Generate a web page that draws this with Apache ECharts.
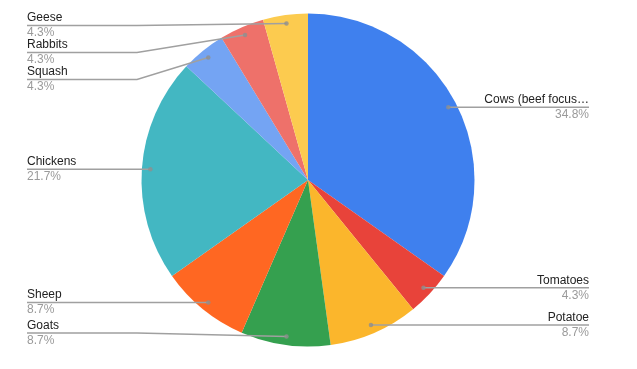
<!DOCTYPE html>
<html><head><meta charset="utf-8">
<script src="https://cdn.jsdelivr.net/npm/echarts@6/dist/echarts.min.js"></script>
<style>html,body{margin:0;padding:0;background:#fff}#c{width:637px;height:369px}</style>
</head><body><div id="c"></div>
<script>
// ---- data ----
const categories = ['Cows (beef focus…', 'Tomatoes', 'Potatoe', 'Goats', 'Sheep', 'Chickens', 'Squash', 'Rabbits', 'Geese'];
const values = [8, 1, 2, 2, 2, 5, 1, 1, 1];
const colors = ['#3F80EE', '#E8433A', '#FBB62C', '#35A04F', '#FF6722', '#43B7C2', '#74A4F3', '#EE716A', '#FCCB4F'];

// ---- style constants ----
const PIE_CX = 308, PIE_CY = 180, PIE_R = 166.5, DOT_INSET = 8.5, BEND = 110;
const FONT = "'Liberation Sans', Arial, sans-serif";

const chart = echarts.init(document.getElementById('c'), null, {renderer: 'canvas'});

const total = values.reduce((a, b) => a + b, 0);
let acc = 0;
const dotData = values.map(v => { const a = acc + v / 2; acc += v; return [PIE_R - DOT_INSET, a]; });

function layoutLabels(params) {
  const data = chart.getModel().getSeriesByIndex(params.seriesIndex).getData();
  const h = params.labelRect.height;
  const items = [];
  let top = 0, bottom = 0;
  data.each(function (idx) {
    const l = data.getItemLayout(idx);
    top = l.cy - l.r; bottom = l.cy + l.r;
    const mid = (l.startAngle + l.endAngle) / 2;
    const rd = l.r - DOT_INSET;
    items.push({idx: idx, x: l.cx + rd * Math.cos(mid), y: l.cy + rd * Math.sin(mid), left: Math.cos(mid) < 0});
  });
  [true, false].forEach(function (side) {
    const list = items.filter(it => it.left === side).sort((a, b) => a.y - b.y);
    let prev = -Infinity;
    list.forEach(function (it) { it.ly = Math.max(it.y, prev + h, top + h / 2 - 1.5); prev = it.ly; });
    let next = Infinity;
    for (let i = list.length - 1; i >= 0; i--) {
      list[i].ly = Math.min(list[i].ly, next - h, bottom - h / 2);
      next = list[i].ly;
    }
  });
  const it = items.find(i => i.idx === params.dataIndex);
  const r = params.labelRect;
  let far, bend;
  if (it.left) { far = r.x; bend = Math.min(it.x, r.x + BEND); }
  else { far = r.x + r.width; bend = Math.max(it.x, r.x + r.width - BEND); }
  return {
    y: it.ly,
    labelLinePoints: [[it.x, it.y], [bend, it.ly], [far, it.ly]]
  };
}

const pieBase = {
  type: 'pie',
  left: 27, right: 48, top: 0, bottom: 0,
  center: ['50%', PIE_CY],
  radius: PIE_R,
  startAngle: 90,
  clockwise: true,
  avoidLabelOverlap: false,
  silent: true
};

chart.setOption({
  animation: false,
  backgroundColor: '#ffffff',
  polar: {center: [PIE_CX, PIE_CY], radius: PIE_R},
  angleAxis: {type: 'value', min: 0, max: total, startAngle: 90, clockwise: true, show: false},
  radiusAxis: {type: 'value', min: 0, max: PIE_R, show: false},
  series: [Object.assign({}, pieBase, {
    z: 2,
    itemStyle: {borderWidth: 0},
    label: {show: false},
    labelLine: {show: false},
    data: categories.map((n, i) => ({name: n, value: values[i], itemStyle: {color: colors[i]}}))
  }), Object.assign({}, pieBase, {
    z: 3,
    itemStyle: {borderWidth: 0, color: 'rgba(0,0,0,0)'},
    label: {
      show: true,
      position: 'outer',
      alignTo: 'edge',
      edgeDistance: 0,
      formatter: function (p) {
        return '{n|' + p.name + '}\n{p|' + (p.value / total * 100).toFixed(1) + '%}';
      },
      rich: {
        n: {fontSize: 12, color: '#222222', lineHeight: 15, fontFamily: FONT},
        p: {fontSize: 12, color: '#9a9a9a', lineHeight: 15, fontFamily: FONT}
      }
    },
    labelLine: {show: true, showAbove: true, length: 0, length2: 0, smooth: false, lineStyle: {color: '#a0a0a0', width: 1.5}},
    labelLayout: layoutLabels,
    data: categories.map((n, i) => ({name: n, value: values[i]}))
  }), {
    type: 'scatter',
    coordinateSystem: 'polar',
    silent: true,
    symbol: 'circle',
    symbolSize: 4.5,
    itemStyle: {color: '#8f8f8f'},
    z: 5,
    data: dotData
  }]
});
</script>
</body></html>
